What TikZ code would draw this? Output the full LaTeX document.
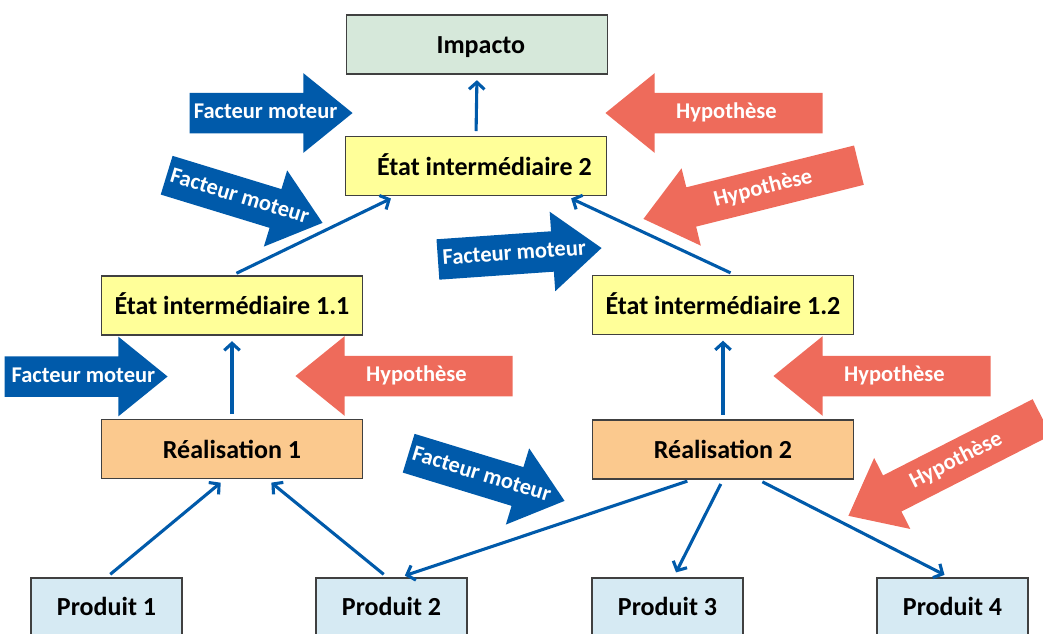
\documentclass[tikz,border=0pt]{standalone}
\usepackage{fontspec}
\setmainfont{Carlito}
\usetikzlibrary{shapes.arrows,calc,arrows.meta}

\definecolor{impactgreen}{RGB}{214,232,218}
\definecolor{stateyellow}{RGB}{255,255,153}
\definecolor{realorange}{RGB}{251,201,142}
\definecolor{prodblue}{RGB}{214,234,243}
\definecolor{linkblue}{RGB}{0,90,170}
\definecolor{hypored}{RGB}{238,107,91}
\definecolor{boxline}{RGB}{64,64,64}

% text of a fat arrow takes no width, so minimum height gives its length
\newcommand\arrowtext[2][0pt]{\makebox[0pt]{\hspace*{#1}#2}}

\tikzset{
  box/.style={draw=boxline, line width=0.8pt, minimum width=6.525cm, minimum height=1.475cm,
    inner sep=0pt, text height=14pt, text depth=1pt, font=\fontsize{18.5}{22}\selectfont\bfseries},
  state/.style={box, fill=stateyellow},
  real/.style={box, fill=realorange},
  prod/.style={box, fill=prodblue, minimum width=3.775cm, minimum height=1.425cm},
  link/.style={draw=linkblue, line width=2.2pt, -{Straight Barb[length=5pt,width=11pt]},
    shorten <=3.5pt, shorten >=4pt},
  fat/.style={single arrow, single arrow head extend=0.49cm, single arrow tip angle=78,
    text height=11pt, text depth=3pt, inner ysep=7.2pt, inner xsep=0pt, text=white,
    font=\fontsize{16}{19}\selectfont\bfseries, anchor=tip},
  driver/.style={fat, fill=linkblue, minimum height=4.075cm},
  hypo/.style={fat, fill=hypored, shape border rotate=180, minimum height=5.425cm},
}

\begin{document}
\begin{tikzpicture}[x=0.025cm, y=-0.025cm]
  \useasboundingbox (0,0) rectangle (1043,633);
  \clip (0,0) rectangle (1043,633);

  % boxes
  \node[box, fill=impactgreen] (imp) at (477,44.5) {\hspace*{5.5pt}Impacto};
  \node[state] (e2) at (476,166) {\hspace*{12pt}État intermédiaire 2};
  \node[state] (e11) at (232,305.5) {État intermédiaire 1.1};
  \node[state] (e12) at (723,305) {État intermédiaire 1.2};
  \node[real] (r1) at (232,449) {Réalisation 1};
  \node[real] (r2) at (723,449.5) {Réalisation 2};
  \node[prod] (p1) at (106.5,606.5) {Produit 1};
  \node[prod] (p2) at (391.5,606.5) {Produit 2};
  \node[prod] (p3) at (667.5,606.5) {Produit 3};
  \node[prod] (p4) at (952.5,606.5) {Produit 4};

  % links
  \draw[link] (e2.north) -- (imp.south);
  \draw[link] (e11.north) -- ($(e2.south)+(-80,0)$);
  \draw[link] ($(e12.north)+(12,0)$) -- ($(e2.south)+(90,0)$);
  \draw[link] (r1.north) -- (e11.south);
  \draw[link] (r2.north) -- (e12.south);
  \draw[link] (p1.north) -- ($(r1.south)+(-7,0)$);
  \draw[link] ($(p2.north)+(-4,0)$) -- ($(r1.south)+(35,0)$);
  \draw[link] ($(r2.south)+(-31,0)$) -- ($(p2.north)+(8,0)$);
  \draw[link] (r2.south) -- ($(p3.north)+(6,0)$);
  \draw[link] ($(r2.south)+(35,0)$) -- ($(p4.north)+(-3,0)$);

  % fat arrows
  \node[driver] (fm1) at (353,113) {\arrowtext[10pt]{Facteur moteur}};
  \node[driver, rotate=-17] (fm2) at (323,223) {\arrowtext[10pt]{Facteur moteur}};
  \node[driver, rotate=4, minimum height=4.1cm] (fm3) at (602,248) {\arrowtext[10pt]{Facteur moteur}};
  \node[driver] (fm4) at (168,376.5) {\arrowtext[14pt]{Facteur moteur}};
  \node[driver, rotate=-17] (fm5) at (565,501) {\arrowtext[10pt]{Facteur moteur}};
  \node[hypo] (hy1) at (605,113) {\arrowtext{Hypothèse}};
  \node[hypo, rotate=14, minimum height=5.55cm] (hy2) at (643,219) {\arrowtext{Hypothèse}};
  \node[hypo] (hy3) at (295,376) {\arrowtext{Hypothèse}};
  \node[hypo] (hy4) at (773,376) {\arrowtext{Hypothèse}};
  \node[hypo, rotate=27] (hy5) at (848,516) {\arrowtext{Hypothèse}};
\end{tikzpicture}
\end{document}
